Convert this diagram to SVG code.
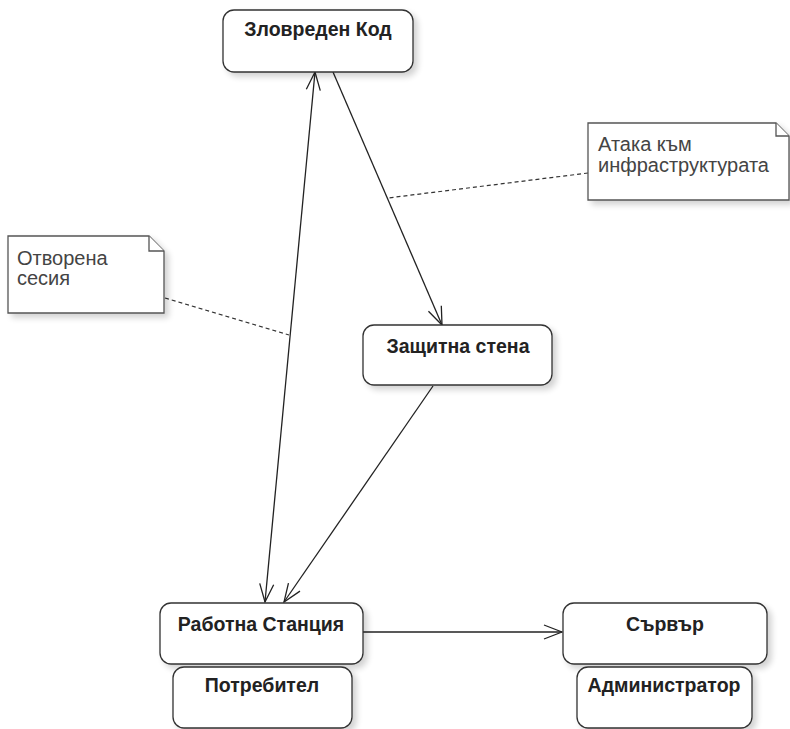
<svg xmlns="http://www.w3.org/2000/svg" width="790" height="729" viewBox="0 0 790 729">
<defs>
<filter id="sh" x="-10%" y="-10%" width="130%" height="140%">
<feGaussianBlur in="SourceAlpha" stdDeviation="3"/>
<feOffset dx="4" dy="4" result="b"/>
<feComponentTransfer><feFuncA type="linear" slope="0.18"/></feComponentTransfer>
<feMerge><feMergeNode/><feMergeNode in="SourceGraphic"/></feMerge>
</filter>
<marker id="open" viewBox="0 0 20 20" refX="19" refY="10" markerWidth="20" markerHeight="20" markerUnits="userSpaceOnUse" orient="auto-start-reverse">
<path d="M1,3 L19,10 L1,17" fill="none" stroke="#222" stroke-width="1.3"/>
</marker>
</defs>
<style>
.box{fill:#fff;stroke:#333;stroke-width:1.3}
.t{font-family:"Liberation Sans",Arial,sans-serif;font-weight:bold;font-size:19.5px;fill:#222;text-anchor:middle}
.n{font-family:"Liberation Sans",Arial,sans-serif;font-size:20px;fill:#444}
.note{fill:#fff;stroke:#555;stroke-width:1.3}
.ln{fill:none;stroke:#222;stroke-width:1.3}
.dash{fill:none;stroke:#333;stroke-width:1.2;stroke-dasharray:4 3}
</style>
<rect width="790" height="729" fill="#fff"/>
<g id="connectors">
<line class="ln" x1="315" y1="72" x2="265" y2="602" marker-start="url(#open)" marker-end="url(#open)"/>
<line class="ln" x1="333" y1="72" x2="442" y2="325" marker-end="url(#open)"/>
<line class="ln" x1="433" y1="386" x2="284" y2="602" marker-end="url(#open)"/>
<line class="ln" x1="363" y1="632" x2="562" y2="632" marker-end="url(#open)"/>
<line class="dash" x1="165" y1="298" x2="289" y2="335"/>
<line class="dash" x1="588" y1="173" x2="388" y2="198"/>
</g>
<g id="node-zlovreden">
<rect class="box" x="223" y="10" width="190" height="62" rx="11" filter="url(#sh)"/>
<text class="t" x="318" y="36">Зловреден Код</text>
</g>
<g id="node-zashtitna">
<rect class="box" x="363" y="325" width="189" height="60" rx="11" filter="url(#sh)"/>
<text class="t" x="458" y="353">Защитна стена</text>
</g>
<g id="node-rabotna">
<rect class="box" x="160" y="603" width="203" height="61" rx="11" filter="url(#sh)"/>
<text class="t" x="261" y="631">Работна Станция</text>
</g>
<g id="node-potrebitel">
<rect class="box" x="173" y="667" width="179" height="61" rx="11" filter="url(#sh)"/>
<text class="t" x="262" y="692">Потребител</text>
</g>
<g id="node-sarvar">
<rect class="box" x="563" y="603" width="204" height="61" rx="11" filter="url(#sh)"/>
<text class="t" x="665" y="631">Сървър</text>
</g>
<g id="node-administrator">
<rect class="box" x="577" y="667" width="175" height="61" rx="11" filter="url(#sh)"/>
<text class="t" x="664" y="692">Администратор</text>
</g>
<g id="note-sesia">
<path class="note" d="M8,236 H149 L164,251 V313 H8 Z" filter="url(#sh)"/>
<path class="note" d="M149,236 V251 H164"/>
<text class="n" x="17" y="265">Отворена</text>
<text class="n" x="17" y="285">сесия</text>
</g>
<g id="note-ataka">
<path class="note" d="M588,123 H776 L789,136 V200 H588 Z" filter="url(#sh)"/>
<path class="note" d="M776,123 V136 H789"/>
<text class="n" x="598" y="151">Атака към</text>
<text class="n" x="598" y="172">инфраструктурата</text>
</g>
</svg>
